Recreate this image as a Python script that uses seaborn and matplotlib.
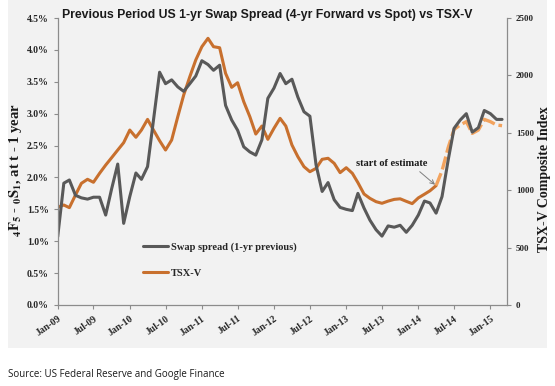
"""Previous period US 1-yr swap spread vs TSX-V, monthly 2009-2015."""

import pandas as pd
import matplotlib
matplotlib.use("Agg")
import matplotlib.pyplot as plt
from matplotlib.lines import Line2D
from matplotlib.patches import Rectangle
from matplotlib.ticker import FuncFormatter
import matplotlib.dates as mdates
import seaborn as sns

# ---- data (monthly, Jan-09 .. Mar-15) ----
months = pd.date_range("2009-01-01", periods=75, freq="MS")

swap_spread = [
    1.07, 1.91, 1.96, 1.72, 1.68, 1.66, 1.69, 1.69, 1.41, 1.82, 2.21, 1.28,
    1.70, 2.07, 1.97, 2.17, 2.90, 3.65, 3.47, 3.53, 3.42, 3.35, 3.47, 3.59,
    3.83, 3.77, 3.68, 3.76, 3.13, 2.90, 2.74, 2.48, 2.40, 2.35, 2.59, 3.24,
    3.40, 3.63, 3.47, 3.54, 3.26, 3.03, 2.96, 2.20, 1.78, 1.92, 1.65, 1.53,
    1.50, 1.48, 1.75, 1.52, 1.33, 1.18, 1.08, 1.24, 1.22, 1.25, 1.14, 1.25,
    1.41, 1.63, 1.60, 1.44, 1.70, 2.27, 2.77, 2.90, 3.00, 2.71, 2.78, 3.05,
    3.00, 2.91, 2.91,
]

tsxv = [
    851, 871, 848, 958, 1060, 1095, 1069, 1147, 1219, 1283, 1350, 1414,
    1524, 1461, 1524, 1617, 1524, 1431, 1350, 1437, 1640, 1829, 1989, 2134,
    2250, 2323, 2250, 2241, 2018, 1896, 1936, 1771, 1640, 1489, 1559, 1443,
    1539, 1626, 1559, 1394, 1292, 1205, 1161, 1190, 1269, 1278, 1234, 1153,
    1196, 1147, 1066, 967, 929, 900, 886, 905, 920, 925, 903, 883,
    933, 965, 995, 1040, 1170, 1370, 1530, 1568, 1597, 1495, 1524, 1617,
    1597, 1568, 1562,
]

estimate_start = 63  # index of "start of estimate" (Apr-14)

left_ticks = [0.0, 0.5, 1.0, 1.5, 2.0, 2.5, 3.0, 3.5, 4.0, 4.5]
right_ticks = [0, 500, 1000, 1500, 2000, 2500]
x_ticks = pd.date_range("2009-01-01", "2015-01-01", freq="6MS")

title = "Previous Period US 1-yr Swap Spread (4-yr Forward vs Spot) vs TSX-V"
legend_labels = ["Swap spread (1-yr previous)", "TSX-V"]
source = "Source: US Federal Reserve and Google Finance"

# ---- style ----
sns.set_style("ticks")
plt.rcParams["mathtext.fontset"] = "stix"
plt.rcParams["mathtext.default"] = "bf"

GRAY = "#595959"
ORANGE = "#C8702E"
ORANGE_EST = "#F2A35E"
AXIS = "#8c8c8c"
SERIF = "Liberation Serif"

W, H = 555, 386
fig = plt.figure(figsize=(W / 100, H / 100), dpi=100)
fig.patch.set_facecolor("white")
fig.add_artist(Rectangle((8 / W, 38 / H), 539 / W, 348 / H, transform=fig.transFigure,
                         facecolor="#f2f2f2", edgecolor="none", zorder=0))

ax = fig.add_axes([57.7 / W, 81 / H, 449.3 / W, 287 / H])
ax2 = ax.twinx()
ax.set_zorder(2)
ax2.set_zorder(1)
ax.patch.set_visible(False)
ax2.patch.set_visible(False)

# TSX-V on the right axis, solid then dashed for the estimate
sns.lineplot(x=months[:estimate_start + 1], y=tsxv[:estimate_start + 1], ax=ax2,
             color=ORANGE, linewidth=2.2)
sns.lineplot(x=months[estimate_start:], y=tsxv[estimate_start:], ax=ax2,
             color=ORANGE_EST, linewidth=2.4, linestyle=(0, (4, 1.2)))

# swap spread on the left axis
sns.lineplot(x=months, y=swap_spread, ax=ax, color=GRAY, linewidth=2.2)

ax.set_ylim(0, 4.5)
ax2.set_ylim(0, 2500)
ax.set_xlim(months[0], pd.Timestamp("2015-03-26"))

ax.set_yticks(left_ticks)
ax.yaxis.set_major_formatter(FuncFormatter(lambda v, p: f"{v:.1f}%"))
ax2.set_yticks(right_ticks)
ax.set_xticks(x_ticks)
ax.xaxis.set_major_formatter(mdates.DateFormatter("%b-%y"))

for a in (ax, ax2):
    a.spines["top"].set_visible(False)
    for s in a.spines.values():
        s.set_color(AXIS)
        s.set_linewidth(0.9)
    a.tick_params(direction="out", length=3, width=0.8, color=AXIS, labelcolor="#262626")
    a.set_xlabel("")
ax.spines["right"].set_visible(False)
ax2.spines["left"].set_visible(False)
ax2.spines["bottom"].set_visible(False)

for lab in ax.get_yticklabels():
    lab.set_fontfamily(SERIF); lab.set_fontweight("bold"); lab.set_fontsize(7)
for lab in ax2.get_yticklabels():
    lab.set_fontfamily(SERIF); lab.set_fontweight("bold"); lab.set_fontsize(6.5)
for lab in ax.get_xticklabels():
    lab.set_fontfamily(SERIF); lab.set_fontweight("bold"); lab.set_fontsize(7)
    lab.set_rotation(35); lab.set_ha("right"); lab.set_rotation_mode("anchor")

ax.set_ylabel(r"${}_4F_5$ - ${}_0S_1$, at t - 1 year", fontfamily=SERIF,
              fontweight="bold", fontsize=10.5, color="#1a1a1a")
ax.yaxis.set_label_coords(-0.075, 0.47)
ax2.set_ylabel("TSX-V Composite Index", fontfamily=SERIF, fontweight="bold",
               fontsize=10, color="#1a1a1a")
ax2.yaxis.set_label_coords(1.068, 0.44)

fig.text(267 / W, 1 - 15 / H, title, ha="center", va="center",
         fontfamily="Liberation Sans", fontweight="bold", fontsize=8.8, color="#1a1a1a")

handles = [Line2D([], [], color=GRAY, lw=2.2), Line2D([], [], color=ORANGE, lw=2.2)]
ax.legend(handles, legend_labels, loc="upper left", bbox_to_anchor=(143 / W, 1 - 242 / H),
          bbox_transform=fig.transFigure, frameon=False, borderpad=0, borderaxespad=0,
          handlelength=2.4, handletextpad=0.3, labelspacing=1.6,
          prop={"family": SERIF, "weight": "bold", "size": 7.5})

ax2.annotate("start of estimate", xy=(months[estimate_start], tsxv[estimate_start]),
             xytext=(392, H - 163), textcoords="figure pixels", ha="center", va="center",
             fontfamily=SERIF, fontweight="bold", fontsize=7.5, color="#1a1a1a",
             arrowprops=dict(arrowstyle="->", color="#7f7f7f", lw=0.7,
                             relpos=(0.82, 0.0), shrinkA=1, shrinkB=1))

fig.text(8 / W, 1 - 374 / H, source, ha="left", va="center",
         fontfamily="Open Sans", fontsize=7, color="#1a1a1a")

fig.savefig("out.png", dpi=100)
